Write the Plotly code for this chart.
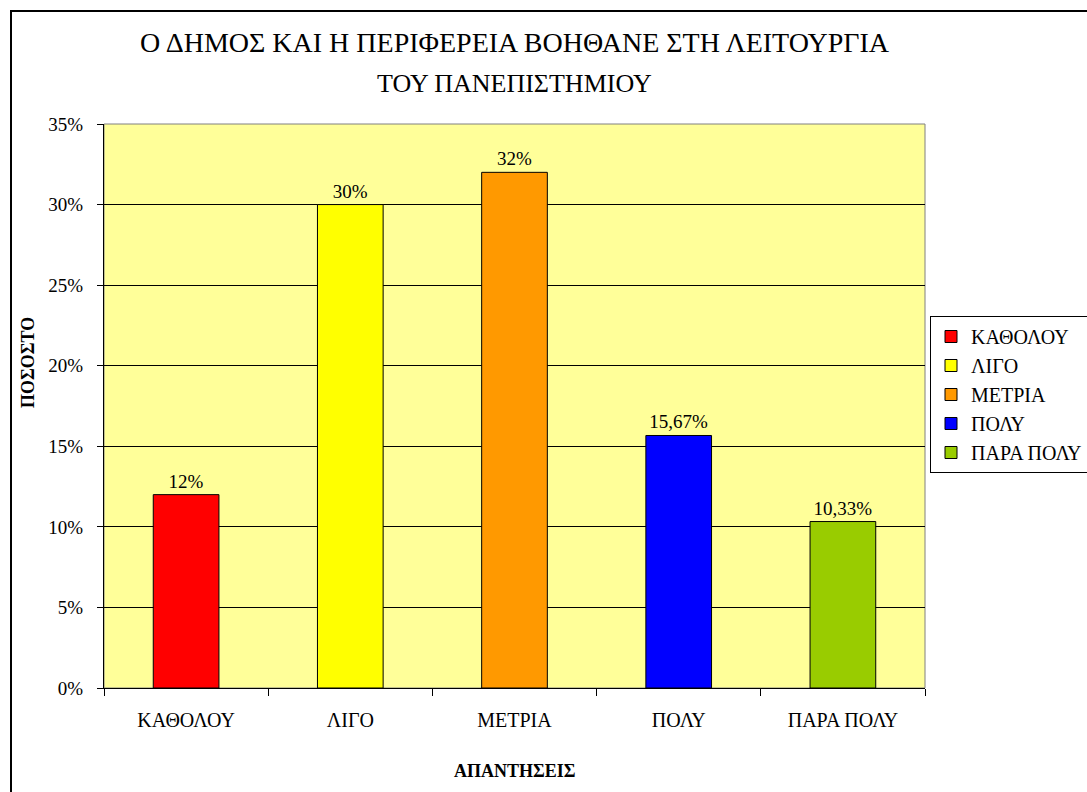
import plotly.graph_objects as go

# Survey answers and their shares
categories = ["ΚΑΘΟΛΟΥ", "ΛΙΓΟ", "ΜΕΤΡΙΑ", "ΠΟΛΥ", "ΠΑΡΑ ΠΟΛΥ"]
values = [0.12, 0.30, 0.32, 0.1567, 0.1033]
bar_colors = ["#FF0000", "#FFFF00", "#FF9900", "#0000FF", "#99CC00"]
y_ticks = [0, 0.05, 0.10, 0.15, 0.20, 0.25, 0.30, 0.35]

FONT = "Times New Roman"

W, H = 1087, 792
L, R, T, B = 104, 162, 124, 104
PW, PH = W - L - R, H - T - B


def px_x(x):
    return (x - L) / PW


def px_y(y):
    return (H - B - y) / PH


def pct_label(v):
    p = round(v * 100, 2)
    if abs(p - round(p)) < 1e-9:
        return f"{int(round(p))}%"
    return f"{p:.2f}".replace(".", ",") + "%"


fig = go.Figure()
for cat, val, col in zip(categories, values, bar_colors):
    fig.add_trace(go.Bar(
        x=[cat], y=[val], name=cat,
        marker=dict(color=col, line=dict(color="#000000", width=1)),
        width=0.4,
        text=[pct_label(val)], textposition="outside",
        textfont=dict(family=FONT, size=19, color="#000000"),
        constraintext="none", cliponaxis=False,
    ))

fig.update_layout(
    width=W, height=H,
    margin=dict(l=L, r=R, t=T, b=B, autoexpand=False),
    paper_bgcolor="#FFFFFF",
    plot_bgcolor="#FFFF99",
    barmode="overlay",
    font=dict(family=FONT, size=19, color="#000000"),
    showlegend=True,
    legend=dict(
        x=px_x(930), y=px_y(316), xanchor="left", yanchor="top",
        bgcolor="#FFFFFF", bordercolor="#000000", borderwidth=1,
        font=dict(family=FONT, size=20, color="#000000"),
        tracegroupgap=0,
    ),
)

fig.update_xaxes(
    type="category", categoryorder="array", categoryarray=categories,
    tickson="boundaries", ticks="outside", ticklen=7, tickcolor="#000000",
    showline=True, linecolor="#000000", linewidth=1,
    showgrid=False, ticklabelstandoff=14,
    tickfont=dict(family=FONT, size=20),
)
fig.update_yaxes(
    range=[0, 0.35], tickvals=y_ticks, tickformat=".0%",
    ticks="outside", ticklen=6, tickcolor="#000000",
    showline=True, linecolor="#000000", linewidth=1,
    showgrid=True, gridcolor="#000000", gridwidth=1,
    zeroline=False, ticklabelstandoff=10,
    tickfont=dict(family=FONT, size=19),
)

shapes = [
    # plot-area frame
    dict(type="rect", xref="paper", yref="paper", x0=0, y0=0, x1=1, y1=1,
         line=dict(color="#808080", width=1), layer="below"),
    # outer chart border
    dict(type="rect", xref="paper", yref="paper",
         x0=px_x(11), y0=px_y(H + 20), x1=px_x(W + 20), y1=px_y(11),
         line=dict(color="#000000", width=2)),
]
fig.update_layout(shapes=shapes)

annotations = [
    dict(text="Ο ΔΗΜΟΣ ΚΑΙ Η ΠΕΡΙΦΕΡΕΙΑ ΒΟΗΘΑΝΕ ΣΤΗ ΛΕΙΤΟΥΡΓΙΑ",
         x=0.5, y=px_y(42), font=dict(size=28)),
    dict(text="ΤΟΥ ΠΑΝΕΠΙΣΤΗΜΙΟΥ", x=0.5, y=px_y(84), font=dict(size=26)),
    dict(text="<b>ΑΠΑΝΤΗΣΕΙΣ</b>", x=0.5, y=px_y(771), font=dict(size=18)),
    dict(text="<b>ΠΟΣΟΣΤΟ</b>", x=px_x(28), y=px_y(363), textangle=-90,
         font=dict(size=18)),
]
for a in annotations:
    a.update(xref="paper", yref="paper", showarrow=False,
             xanchor="center", yanchor="middle")
    a["font"].update(family=FONT, color="#000000")
fig.update_layout(annotations=annotations)

fig.write_html("out.html")
